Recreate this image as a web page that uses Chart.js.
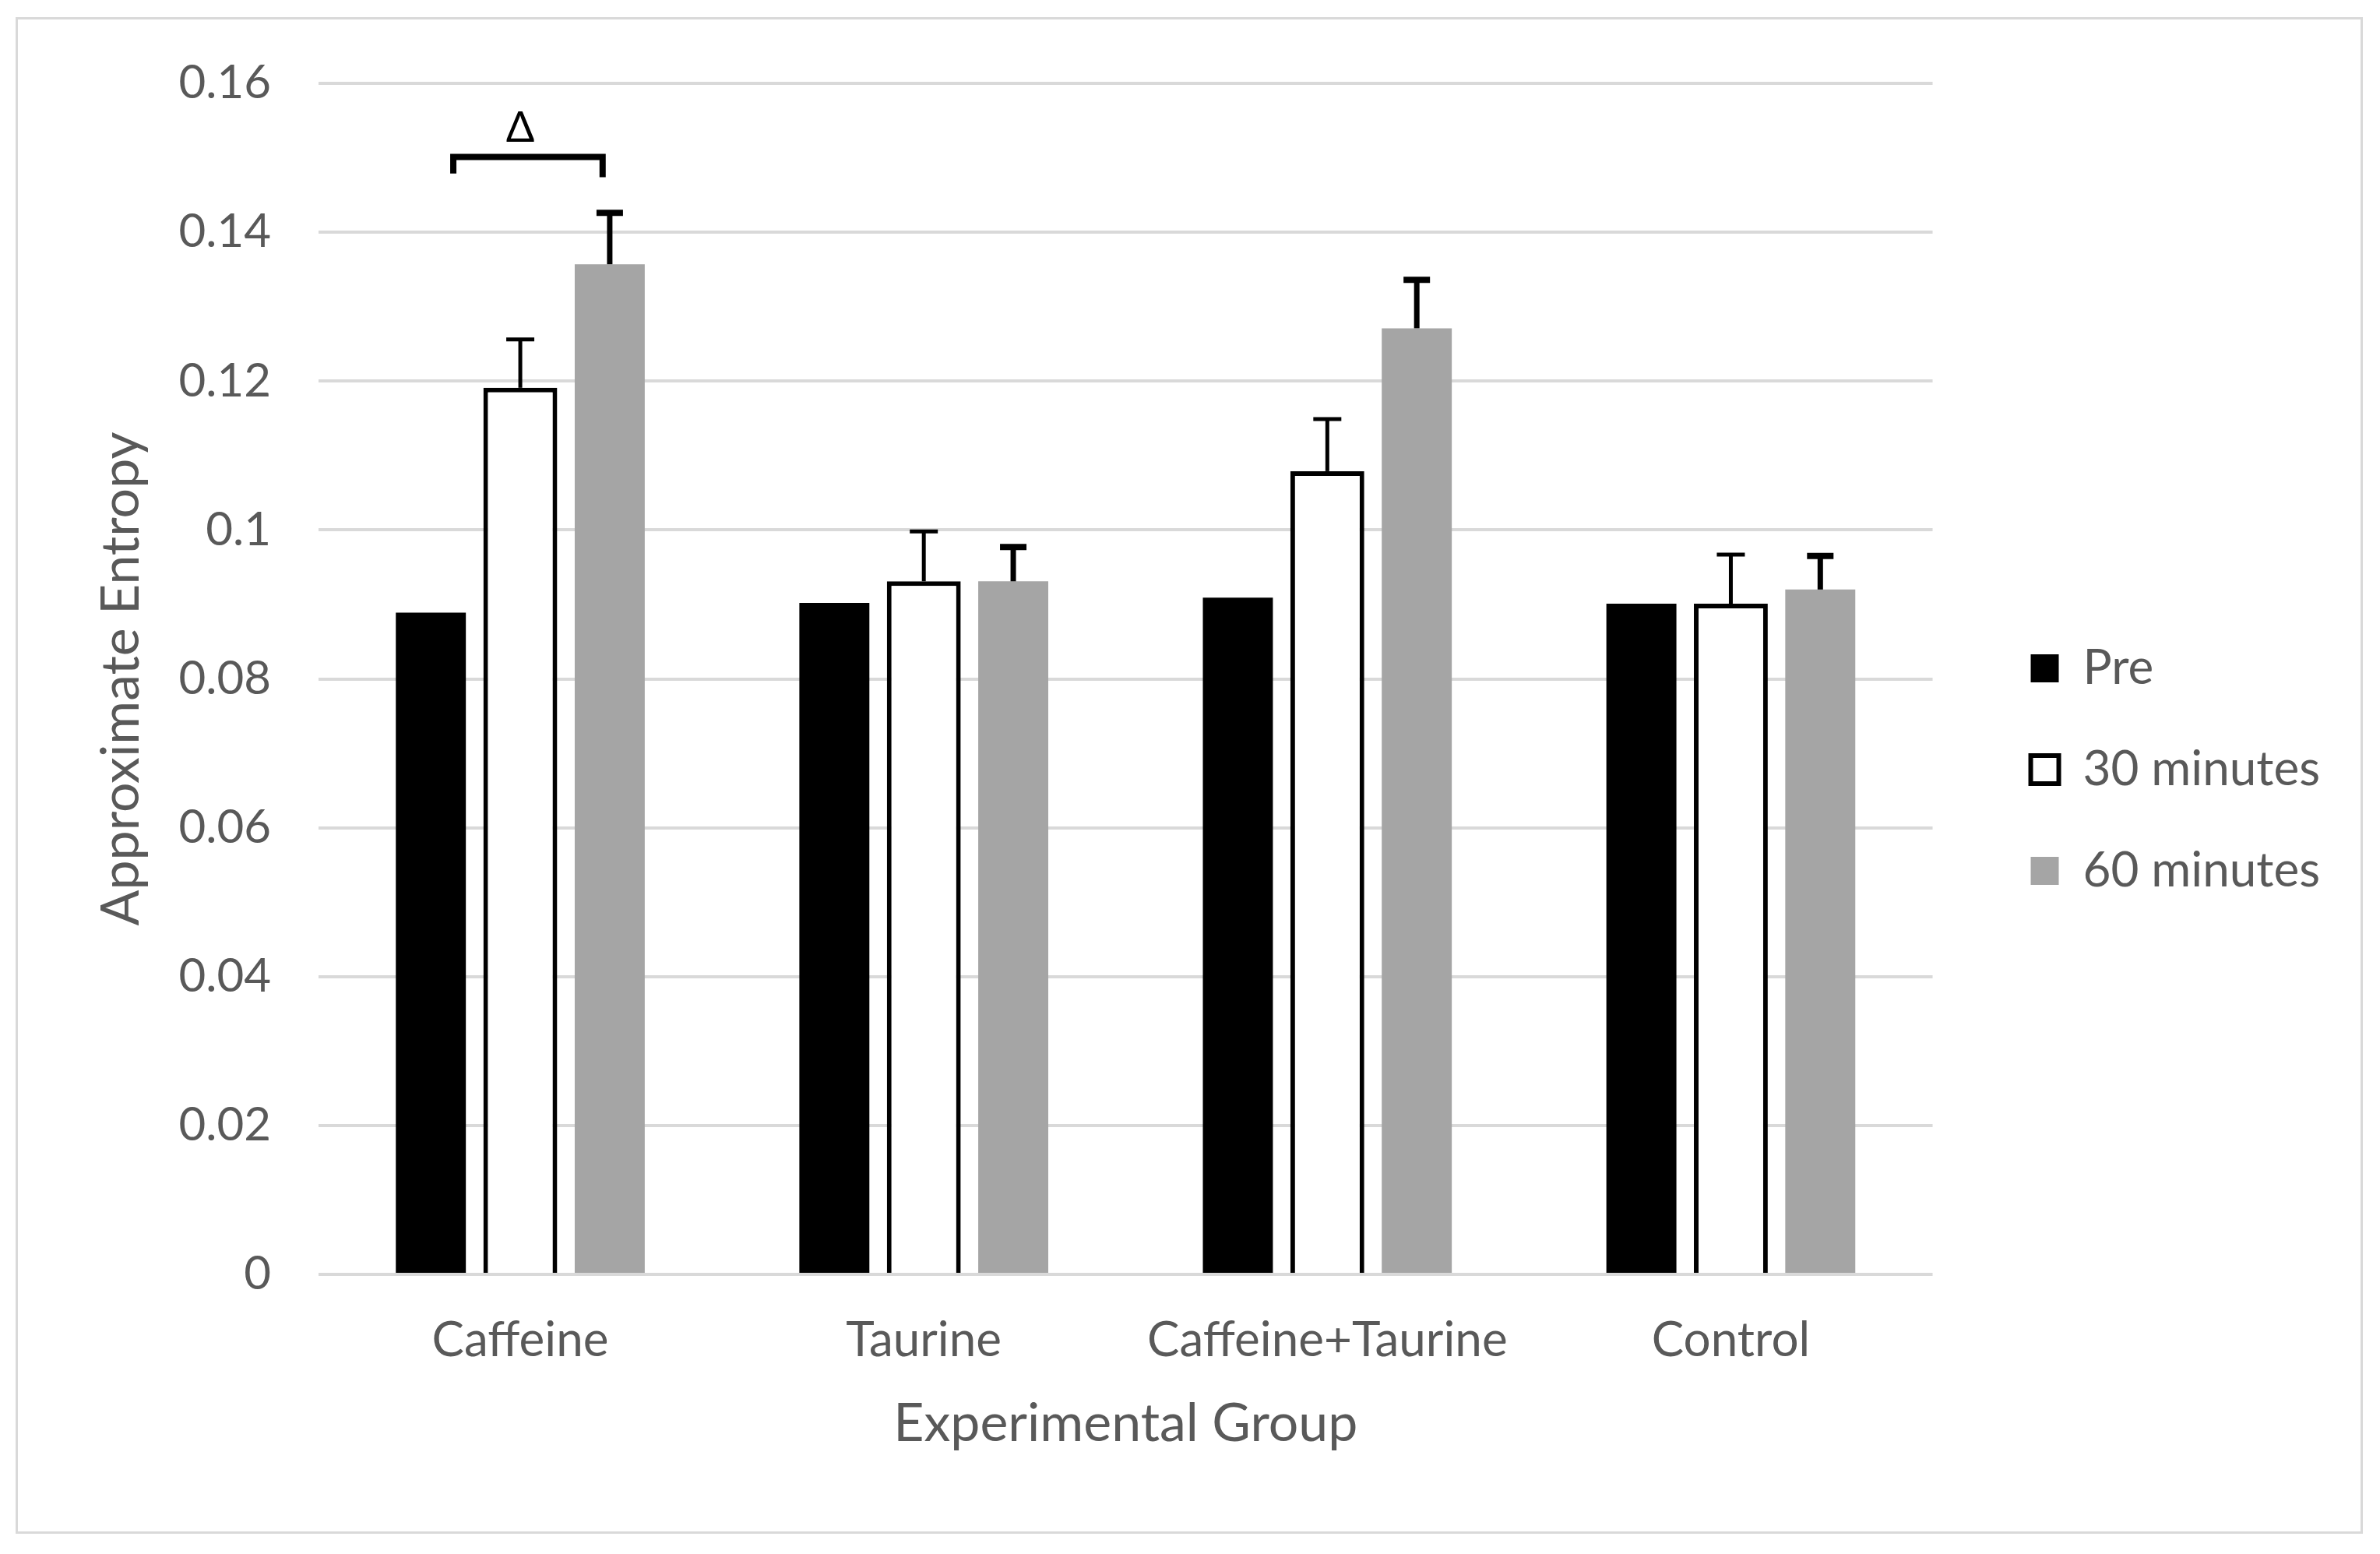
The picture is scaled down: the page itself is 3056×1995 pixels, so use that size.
<!DOCTYPE html>
<html><head><meta charset="utf-8">
<script src="https://cdn.jsdelivr.net/npm/chart.js@4.4.1/dist/chart.umd.min.js"></script>
<style>html,body{margin:0;padding:0;background:#fff;overflow:hidden}#wrap{width:3056px;height:1995px;position:relative}</style>
</head><body><div id="wrap"><canvas id="c" width="3056" height="1995" style="width:3056px;height:1995px"></canvas></div>
<script>
// ---- data ----
const categories = ['Caffeine', 'Taurine', 'Caffeine+Taurine', 'Control'];
const seriesNames = ['Pre', '30 minutes', '60 minutes'];
const preValues   = [0.0889, 0.0902, 0.0909, 0.0901];
const min30Values = [0.1191, 0.0931, 0.1079, 0.0901];
const min60Values = [0.1357, 0.0931, 0.1271, 0.0920];
const min30Errors = [0.0065, 0.0067, 0.0070, 0.0066];
const min60Errors = [0.0069, 0.0046, 0.0065, 0.0045];
const yTickLabels = ['0', '0.02', '0.04', '0.06', '0.08', '0.1', '0.12', '0.14', '0.16'];
const significanceMark = { category: 0, symbol: '\u0394', barValue: 0.1501, leftLegValue: 0.1479, rightLegValue: 0.1474, symbolValue: 0.1522 };

const TEXT = '#595959';
const FONT = 'Lato';

const errorSets = {
  1: { values: min30Errors, stem: 5, cap: 5, capLen: 36 },
  2: { values: min60Errors, stem: 7, cap: 8, capLen: 34 }
};

const frame = {
  id: 'frame',
  beforeDraw(chart) {
    const ctx = chart.ctx;
    ctx.save();
    ctx.fillStyle = '#ffffff';
    ctx.fillRect(0, 0, chart.width, chart.height);
    ctx.strokeStyle = '#d9d9d9';
    ctx.lineWidth = 3;
    ctx.strokeRect(21.5, 23.5, 3011, 1944);
    ctx.restore();
  }
};

const errorBars = {
  id: 'errorBars',
  afterDatasetsDraw(chart) {
    const ctx = chart.ctx;
    const y = chart.scales.y;
    ctx.save();
    ctx.strokeStyle = '#000000';
    ctx.lineCap = 'butt';
    Object.keys(errorSets).forEach(k => {
      const di = +k, set = errorSets[k];
      const meta = chart.getDatasetMeta(di);
      const vals = chart.data.datasets[di].data;
      meta.data.forEach((el, i) => {
        const top = y.getPixelForValue(vals[i] + set.values[i]);
        ctx.lineWidth = set.stem;
        ctx.beginPath();
        ctx.moveTo(el.x, el.y);
        ctx.lineTo(el.x, top);
        ctx.stroke();
        ctx.lineWidth = set.cap;
        ctx.beginPath();
        ctx.moveTo(el.x - set.capLen / 2, top);
        ctx.lineTo(el.x + set.capLen / 2, top);
        ctx.stroke();
      });
    });
    ctx.restore();
  }
};

const significance = {
  id: 'significance',
  afterDatasetsDraw(chart) {
    const ctx = chart.ctx;
    const xs = chart.scales.x, ys = chart.scales.y;
    const m = significanceMark;
    const x0 = xs.getPixelForValue(m.category);
    const catW = xs.width / categories.length;
    const left = x0 - 0.166 * catW, right = x0 + 0.204 * catW;
    const yb = ys.getPixelForValue(m.barValue);
    ctx.save();
    ctx.strokeStyle = '#000000';
    ctx.lineWidth = 8;
    ctx.lineJoin = 'miter';
    ctx.lineCap = 'butt';
    ctx.beginPath();
    ctx.moveTo(left, ys.getPixelForValue(m.leftLegValue));
    ctx.lineTo(left, yb);
    ctx.lineTo(right, yb);
    ctx.lineTo(right, ys.getPixelForValue(m.rightLegValue));
    ctx.stroke();
    ctx.fillStyle = '#000000';
    ctx.font = '54px ' + FONT;
    ctx.textAlign = 'center';
    ctx.textBaseline = 'alphabetic';
    ctx.fillText(m.symbol, x0, ys.getPixelForValue(m.symbolValue));
    ctx.restore();
  }
};

Chart.defaults.font.family = FONT;
Chart.defaults.color = TEXT;

new Chart(document.getElementById('c'), {
  type: 'bar',
  data: {
    labels: categories,
    datasets: [
      { label: seriesNames[0], data: preValues, backgroundColor: '#000000', borderWidth: 0, barPercentage: 0.783, categoryPercentage: 0.665 },
      { label: seriesNames[1], data: min30Values, backgroundColor: '#ffffff', borderColor: '#000000', borderWidth: 6, barPercentage: 0.826, categoryPercentage: 0.665 },
      { label: seriesNames[2], data: min60Values, backgroundColor: '#a5a5a5', borderWidth: 0, barPercentage: 0.783, categoryPercentage: 0.665 }
    ]
  },
  options: {
    responsive: false,
    animation: false,
    devicePixelRatio: 1,
    layout: { padding: { top: 107, bottom: 126, left: 0, right: 67 } },
    plugins: {
      legend: {
        position: 'right',
        labels: { boxWidth: 36, boxHeight: 36, padding: 68, color: TEXT, font: { size: 62, family: FONT } }
      },
      tooltip: { enabled: false }
    },
    scales: {
      x: {
        grid: { display: false, drawTicks: false },
        border: { display: false },
        ticks: { color: TEXT, font: { size: 62, family: FONT }, padding: 48, maxRotation: 0, autoSkip: false },
        title: { display: true, text: 'Experimental Group', color: TEXT, font: { size: 68, family: FONT }, padding: { top: 0, bottom: 0 } },
        afterFit(s) { s.height = 233; }
      },
      y: {
        min: 0, max: 0.16,
        ticks: { stepSize: 0.02, color: TEXT, font: { size: 60, family: FONT }, padding: 61,
                 callback: (v, i) => yTickLabels[i] },
        grid: { color: '#d9d9d9', lineWidth: 4, drawTicks: false },
        border: { display: false },
        title: { display: true, text: 'Approximate Entropy', color: TEXT, font: { size: 68, family: FONT }, padding: { top: 115, bottom: 0 } },
        afterFit(s) { s.width = 409; }
      },
      ySpacer: {
        position: 'right',
        display: true,
        grid: { display: false, drawTicks: false },
        border: { display: false },
        ticks: { display: false },
        afterFit(s) { s.width = 58; }
      }
    }
  },
  plugins: [frame, errorBars, significance]
});
</script>
</body></html>
